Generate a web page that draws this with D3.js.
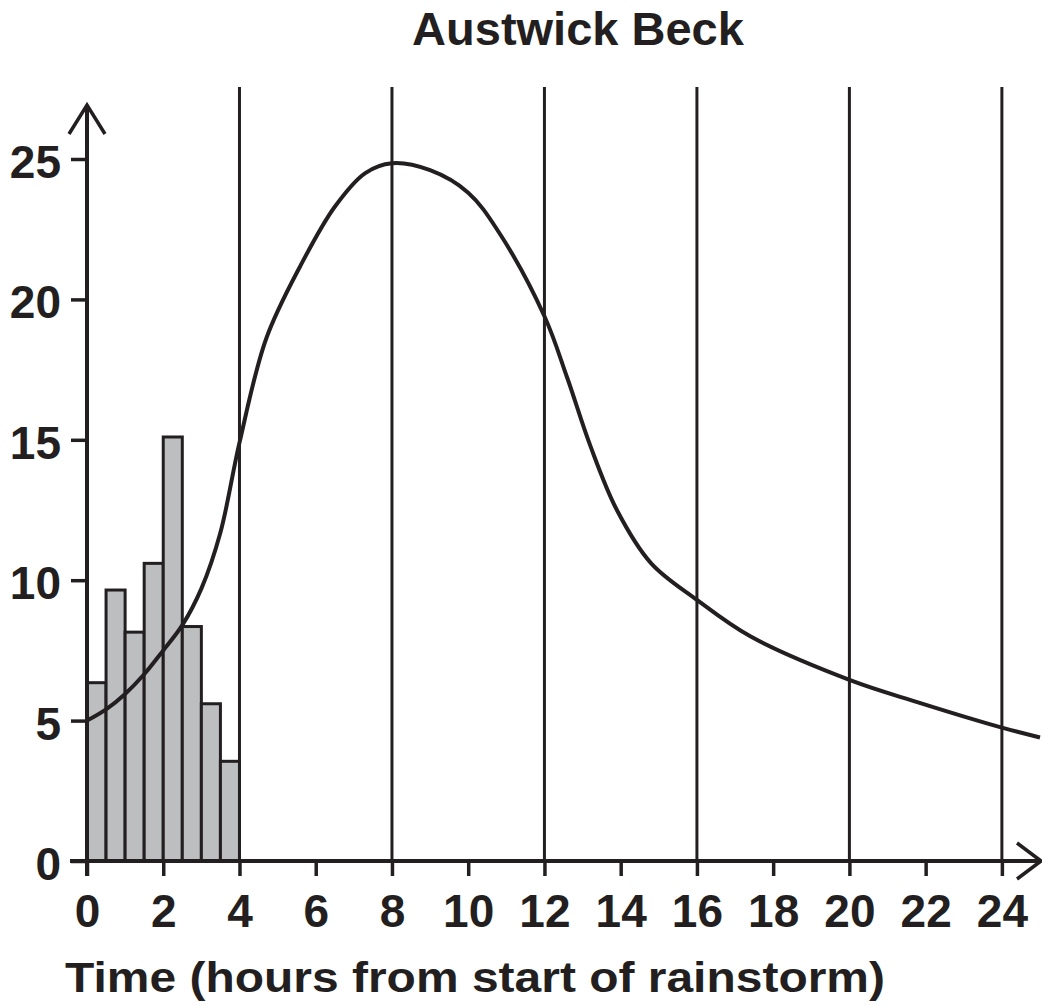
<!DOCTYPE html>
<html lang="en">
<head>
    <meta charset="UTF-8">
    <title>Austwick Beck</title>
    <script src="https://d3js.org/d3.v7.min.js"></script>
    <style>
        body { margin: 0; background: #fff; }
        svg { display: block; }
        text { font-family: "Liberation Sans", Arial, sans-serif; font-weight: bold; fill: #231f20; }
    </style>
</head>
<body>
    <svg id="chart" width="1042" height="1006"></svg>

    <script>
        // rainfall bars (half-hour blocks, 0-4 h)
        const rainStart = [0, 0.5, 1, 1.5, 2, 2.5, 3, 3.5];
        const rainfall = [6.35, 9.65, 8.15, 10.6, 15.1, 8.35, 5.6, 3.55];

        // discharge curve
        const hours = [0, 0.5, 1, 1.5, 2, 2.5, 3, 3.5, 4, 4.7, 5.6, 6.5, 7.3, 8, 9, 10, 10.8, 12, 12.6, 13.2, 13.9, 14.8, 16, 17.4, 20, 21.8, 24, 25];
        const discharge = [5.0, 5.4, 5.95, 6.65, 7.5, 8.4, 9.7, 11.7, 14.9, 18.6, 21.2, 23.3, 24.5, 24.85, 24.6, 23.8, 22.4, 19.4, 17.2, 14.8, 12.5, 10.6, 9.3, 8.0, 6.45, 5.65, 4.75, 4.4];

        const xTicks = [0, 2, 4, 6, 8, 10, 12, 14, 16, 18, 20, 22, 24];
        const yTicks = [0, 5, 10, 15, 20, 25];
        const gridHours = [4, 8, 12, 16, 20, 24];

        const ink = "#231f20";
        const svg = d3.select("#chart");
        const x = d3.scaleLinear().domain([0, 25]).range([87, 1040]);
        const y = d3.scaleLinear().domain([0, 25]).range([861, 159]);

        // bars
        svg.selectAll("rect.rain").data(rainStart).enter().append("rect")
            .attr("class", "rain")
            .attr("x", d => x(d)).attr("y", (d, i) => y(rainfall[i]))
            .attr("width", d => x(d + 0.5) - x(d)).attr("height", (d, i) => y(0) - y(rainfall[i]))
            .attr("fill", "#bcbec0").attr("stroke", ink).attr("stroke-width", 3);

        // vertical lines
        svg.selectAll("line.grid").data(gridHours).enter().append("line")
            .attr("x1", d => x(d)).attr("x2", d => x(d))
            .attr("y1", 87).attr("y2", y(0))
            .attr("stroke", ink).attr("stroke-width", 3);

        // discharge line
        const line = d3.line().x((d, i) => x(hours[i])).y(d => y(d)).curve(d3.curveCatmullRom.alpha(0.5));
        svg.append("path").datum(discharge).attr("d", line)
            .attr("fill", "none").attr("stroke", ink).attr("stroke-width", 4);

        // axes
        const xAxis = svg.append("g").attr("transform", `translate(0,${y(0)})`)
            .call(d3.axisBottom(x).tickValues(xTicks).tickSize(15).tickPadding(18).tickFormat(d3.format("d")));
        const yAxis = svg.append("g").attr("transform", `translate(${x(0)},0)`)
            .call(d3.axisLeft(y).tickValues(yTicks).tickSize(16).tickPadding(10).tickFormat(d3.format("d")));
        [xAxis, yAxis].forEach(g => {
            g.select(".domain").remove();
            g.selectAll(".tick line").attr("stroke", ink).attr("stroke-width", 3.5);
            g.selectAll(".tick text").style("font-size", "46px").attr("fill", ink);
        });
        xAxis.selectAll(".tick text").attr("dy", "0.71em");
        yAxis.selectAll(".tick text").attr("dy", "0.4em");

        // axis lines with arrow heads
        svg.append("line").attr("x1", 70).attr("x2", 1041).attr("y1", y(0)).attr("y2", y(0))
            .attr("stroke", ink).attr("stroke-width", 4);
        svg.append("path").attr("d", `M1017,${y(0) - 18}L1041,${y(0)}L1017,${y(0) + 18}`)
            .attr("fill", "none").attr("stroke", ink).attr("stroke-width", 3.5);
        svg.append("line").attr("x1", x(0)).attr("x2", x(0)).attr("y1", y(0) + 15).attr("y2", 105)
            .attr("stroke", ink).attr("stroke-width", 4);
        svg.append("path").attr("d", `M${x(0) - 18},134L${x(0)},105L${x(0) + 18},134`)
            .attr("fill", "none").attr("stroke", ink).attr("stroke-width", 3.5);

        // titles
        svg.append("text").attr("x", 578).attr("y", 45).attr("text-anchor", "middle")
            .style("font-size", "47px").text("Austwick Beck");
        svg.append("text").attr("x", 65).attr("y", 992)
            .attr("textLength", 820).attr("lengthAdjust", "spacingAndGlyphs")
            .style("font-size", "42px").text("Time (hours from start of rainstorm)");
    </script>
</body>
</html>
